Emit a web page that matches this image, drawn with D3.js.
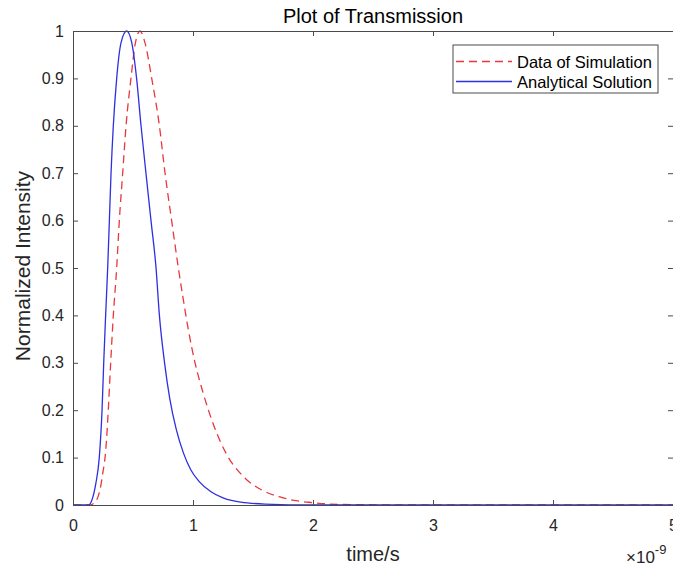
<!DOCTYPE html>
<html>
<head>
<meta charset="utf-8">
<script src="https://cdn.jsdelivr.net/npm/d3@7"></script>
<style>
  body { margin: 0; background: #fff; }
  svg { display: block; font-family: "Liberation Sans", Arial, sans-serif; }
</style>
</head>
<body>
<svg id="chart" width="673" height="570"></svg>
<script>
// time in units of 1e-9 s
const simTime = [0, 0.15, 0.17, 0.2, 0.225, 0.25, 0.267, 0.28, 0.294, 0.314, 0.336, 0.364, 0.386, 0.414, 0.442, 0.483, 0.52, 0.558, 0.6, 0.656, 0.72, 0.767, 0.822, 0.878, 0.92, 0.961, 1.017, 1.086, 1.17, 1.28, 1.42, 1.586, 1.725, 1.86, 2.0, 2.14, 2.4, 5.0];
const simValue = [0, 0, 0.003, 0.012, 0.032, 0.07, 0.1, 0.14, 0.2, 0.3, 0.4, 0.5, 0.6, 0.7, 0.8, 0.9, 0.975, 1.0, 0.975, 0.9, 0.8, 0.7, 0.6, 0.5, 0.432, 0.37, 0.3, 0.235, 0.17, 0.107, 0.06, 0.03, 0.017, 0.009, 0.005, 0.002, 0.0005, 0];

const anaTime = [0, 0.13, 0.16, 0.19, 0.219, 0.242, 0.256, 0.272, 0.289, 0.303, 0.317, 0.336, 0.364, 0.4, 0.447, 0.49, 0.53, 0.567, 0.608, 0.65, 0.692, 0.72, 0.763, 0.806, 0.86, 0.92, 0.98, 1.05, 1.15, 1.25, 1.4, 1.6, 2.0, 5.0];
const anaValue = [0, 0, 0.012, 0.045, 0.1, 0.2, 0.3, 0.4, 0.5, 0.6, 0.7, 0.8, 0.9, 0.975, 1.0, 0.975, 0.9, 0.8, 0.7, 0.6, 0.5, 0.4, 0.3, 0.225, 0.16, 0.11, 0.075, 0.05, 0.028, 0.015, 0.006, 0.002, 0, 0];

const xTicks = [0, 1, 2, 3, 4, 5];
const yTicks = [0, 0.1, 0.2, 0.3, 0.4, 0.5, 0.6, 0.7, 0.8, 0.9, 1];
const legendLabels = ['Data of Simulation', 'Analytical Solution'];

const margin = { top: 31, right: 0, bottom: 65, left: 73 };
const svg = d3.select('#chart');
const width = 673 - margin.left - margin.right;
const height = 570 - margin.top - margin.bottom;
const axisColor = '#4a4a4a';
const simColor = '#e8383d';
const anaColor = '#2f2fe0';

const x = d3.scaleLinear().domain([0, 5]).range([0, width]);
const y = d3.scaleLinear().domain([0, 1]).range([height, 0]);

const g = svg.append('g')
  .attr('transform', `translate(${margin.left},${margin.top})`);

// plot lines
const line = d3.line()
  .x(d => x(d[0]))
  .y(d => y(d[1]))
  .curve(d3.curveMonotoneX);

g.append('path')
  .datum(d3.zip(simTime, simValue))
  .attr('d', line)
  .attr('fill', 'none')
  .attr('stroke', simColor)
  .attr('stroke-width', 1.3)
  .attr('stroke-dasharray', '8,5');

g.append('path')
  .datum(d3.zip(anaTime, anaValue))
  .attr('d', line)
  .attr('fill', 'none')
  .attr('stroke', anaColor)
  .attr('stroke-width', 1.3);

// axes
const xAxis = g.append('g')
  .attr('transform', `translate(0,${height})`)
  .call(d3.axisBottom(x).tickValues(xTicks).tickSizeInner(-5).tickSizeOuter(0).tickPadding(15).tickFormat(d3.format('d')));
const xAxisTop = g.append('g')
  .call(d3.axisTop(x).tickValues(xTicks).tickSizeInner(-5).tickSizeOuter(0).tickFormat(''));
const yAxis = g.append('g')
  .call(d3.axisLeft(y).tickValues(yTicks).tickSizeInner(-5).tickSizeOuter(0).tickPadding(9).tickFormat(d => d === 0 || d === 1 ? d3.format('d')(d) : d3.format('.1f')(d)));
const yAxisRight = g.append('g')
  .attr('transform', `translate(${width},0)`)
  .call(d3.axisRight(y).tickValues(yTicks).tickSizeInner(-5).tickSizeOuter(0).tickFormat(''));

[xAxis, xAxisTop, yAxis, yAxisRight].forEach(a => {
  a.select('.domain').attr('stroke', axisColor);
  a.selectAll('.tick line').attr('stroke', axisColor);
  a.selectAll('.tick text').attr('fill', '#262626').attr('font-size', 16);
});

// title and labels
svg.append('text')
  .attr('x', margin.left + width / 2)
  .attr('y', 23)
  .attr('text-anchor', 'middle')
  .attr('font-size', 20)
  .attr('fill', '#000')
  .text('Plot of Transmission');

svg.append('text')
  .attr('x', margin.left + width / 2)
  .attr('y', 561)
  .attr('text-anchor', 'middle')
  .attr('font-size', 20)
  .attr('fill', '#262626')
  .text('time/s');

svg.append('text')
  .attr('transform', `translate(30,${margin.top + height / 2 - 2}) rotate(-90)`)
  .attr('text-anchor', 'middle')
  .attr('font-size', 21)
  .attr('fill', '#262626')
  .text('Normalized Intensity');

const expo = svg.append('text')
  .attr('x', 626)
  .attr('y', 563)
  .attr('font-size', 17)
  .attr('fill', '#262626');
expo.append('tspan').text('\u00d710');
expo.append('tspan').attr('dy', -9).attr('font-size', 13).text('-9');

// legend
const legend = svg.append('g').attr('transform', 'translate(453,45)');
legend.append('rect')
  .attr('width', 205)
  .attr('height', 48)
  .attr('fill', '#fff')
  .attr('stroke', axisColor)
  .attr('stroke-width', 1);

legendLabels.forEach((label, i) => {
  const row = legend.append('g').attr('transform', `translate(0,${16.5 + i * 20})`);
  row.append('line')
    .attr('x1', 3).attr('x2', 59)
    .attr('stroke', i === 0 ? simColor : anaColor)
    .attr('stroke-width', 1.3)
    .attr('stroke-dasharray', i === 0 ? '8,5' : null);
  row.append('text')
    .attr('x', 64)
    .attr('y', 6)
    .attr('font-size', 16.5)
    .attr('fill', '#000')
    .text(label);
});
</script>
</body>
</html>
